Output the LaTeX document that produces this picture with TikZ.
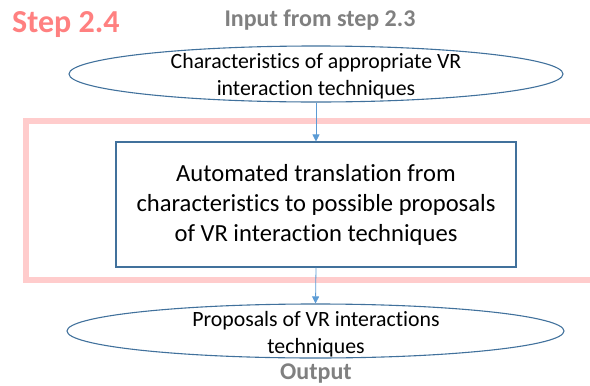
\documentclass[tikz,border=0pt]{standalone}
\usepackage{fontspec}
\setmainfont{Carlito}[Ligatures={NoCommon}]
\usetikzlibrary{shapes.geometric,arrows.meta}
\definecolor{framepink}{HTML}{FFCCCC}
\definecolor{steppink}{HTML}{FF8080}
\definecolor{labelgray}{HTML}{808080}
\definecolor{edgeblue}{HTML}{41719C}
\definecolor{arrowblue}{HTML}{5B9BD5}
\tikzset{
  ovalshape/.style={draw=edgeblue, line width=1.1pt, ellipse, inner sep=0pt},
  ovaltext/.style={font=\fontsize{21.8}{27}\selectfont, align=center, inner sep=0pt},
  procbox/.style={draw=edgeblue, line width=1.1pt, rectangle, inner sep=0pt, align=center, font=\fontsize{24.6}{30}\selectfont},
  flow/.style={draw=arrowblue, line width=0.8pt, -{Triangle[width=7pt,length=7pt]}},
  graylabel/.style={text=labelgray, font=\bfseries\fontsize{24}{28}\selectfont, inner sep=0pt},
}
\begin{document}
\begin{tikzpicture}[x=1pt,y=-1pt]
\useasboundingbox (0,0) rectangle (590,386);
\clip (0,0) rectangle (590,386);
\draw[framepink, line width=6pt] (26,121) rectangle (620,280);
\node[text=steppink, font=\bfseries\fontsize{32}{36}\selectfont, anchor=west, inner sep=0pt] (steplbl) at (12,25) {Step 2.4};
\node[graylabel] (inlbl) at (320,20) {Input from step 2.3};
\node[ovalshape, minimum width=494pt, minimum height=56pt] (inoval) at (316,74) {};
\node[ovaltext] (intext) at (316,76.5) {Characteristics of appropriate VR\\interaction techniques};
\node[procbox, minimum width=400pt, minimum height=125pt] (proc) at (316,204.5) {Automated translation from\\characteristics to possible proposals\\of VR interaction techniques};
\node[ovalshape, minimum width=497pt, minimum height=54pt] (outoval) at (315.5,331) {};
\node[ovaltext] (outtext) at (316,334) {Proposals of VR interactions\\techniques};
\node[graylabel] (outlbl) at (316,373.5) {Output};
\draw[flow] (inoval.south) -- (proc.north);
\draw[flow] (proc.south) -- (outoval.north);
\end{tikzpicture}
\end{document}
